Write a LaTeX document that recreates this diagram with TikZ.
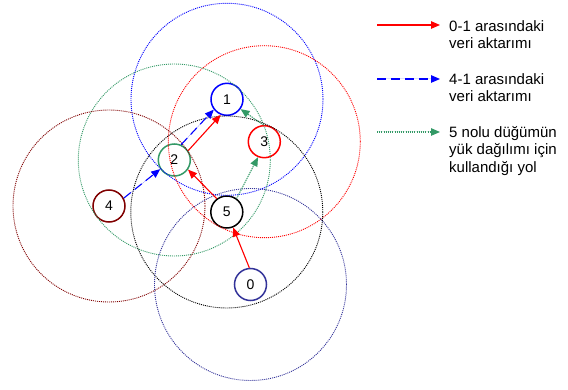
\documentclass[tikz,border=0pt]{standalone}
\usepackage{fontspec}
\setmainfont{Liberation Sans}
\usetikzlibrary{arrows.meta}
\definecolor{nodeblue}{RGB}{0,0,255}
\definecolor{nodered}{RGB}{255,0,0}
\definecolor{nodegreen}{RGB}{51,153,102}
\definecolor{nodemaroon}{RGB}{128,0,0}
\definecolor{nodenavy}{RGB}{51,51,153}
\tikzset{
  station/.style={circle, draw=#1, line width=1.5pt, minimum size=32pt, inner sep=0pt,
    font=\fontsize{14}{16}\selectfont},
  range/.style={draw=#1, line width=0.9pt, dash pattern=on 1pt off 1pt},
  tip/.style={-{Triangle[length=9pt,width=7.5pt]}},
  redpath/.style={tip, draw=nodered, fill=nodered, line width=1.1pt},
  bluepath/.style={tip, draw=nodeblue, fill=nodeblue, line width=1.1pt, dash pattern=on 9pt off 5pt},
  greenpath/.style={tip, draw=nodegreen, fill=nodegreen, line width=1.1pt, dash pattern=on 1pt off 1.2pt},
  % multi-line legend text, positioned by the baseline of its last line
  legendtext/.style={anchor=base west, inner sep=0pt, align=left,
    font=\fontsize{15}{17.5}\selectfont},
}
\begin{document}
\begin{tikzpicture}[x=1pt, y=-1pt]
\useasboundingbox (0,0) rectangle (568,390);

% stations
\node[station=nodeblue]   (n1) at (227,99.3)    {1};
\node[station=nodegreen]  (n2) at (174.3,160)   {2};
\node[station=nodered]    (n3) at (264.3,141.7) {3};
\node[station=nodemaroon] (n4) at (109,206)     {4};
\node[station=black]      (n5) at (226.8,212)   {5};
\node[station=nodenavy]   (n0) at (250.5,284.5) {0};

% transmission ranges
\draw[range=nodeblue]   (n1.center) circle[radius=96];
\draw[range=nodered]    (n3.center) circle[radius=96];
\draw[range=nodegreen]  (n2.center) circle[radius=96];
\draw[range=nodemaroon] (n4.center) circle[radius=96];
\draw[range=black]      (n5.center) circle[radius=96];
\draw[range=nodenavy]   (n0.center) circle[radius=96];

% route 0 -> 1
\draw[redpath] (n0.94) -- (n5.-68);
\draw[redpath] (n5.127) -- (n2.-35);
\draw[redpath] (n2.34) -- (n1.248);

% route 4 -> 1
\draw[bluepath] (n4.28) -- (n2.213);
\draw[bluepath] (n2.66) -- (n1.218);

% load distribution path of node 5
\draw[greenpath] (n5.54) -- (n3.-112);
\draw[greenpath] (n3.93) -- (n1.-36);

% legend
\coordinate (lr) at (377,25);   \coordinate (lrt) at (440,25);
\coordinate (lb) at (377,79);   \coordinate (lbt) at (440,79);
\coordinate (lg) at (377,132);  \coordinate (lgt) at (440,132);
\draw[redpath]   (lr) -- (lrt);
\draw[bluepath]  (lb) -- (lbt);
\draw[greenpath] (lg) -- (lgt);
\node[legendtext] (tr) at (449,49)    {0-1 arasındaki\\veri aktarımı};
\node[legendtext] (tb) at (449,102)   {4-1 arasındaki\\veri aktarımı};
\node[legendtext] (tg) at (449,172.3) {5 nolu düğümün\\yük dağılımı için\\kullandığı yol};
\end{tikzpicture}
\end{document}
